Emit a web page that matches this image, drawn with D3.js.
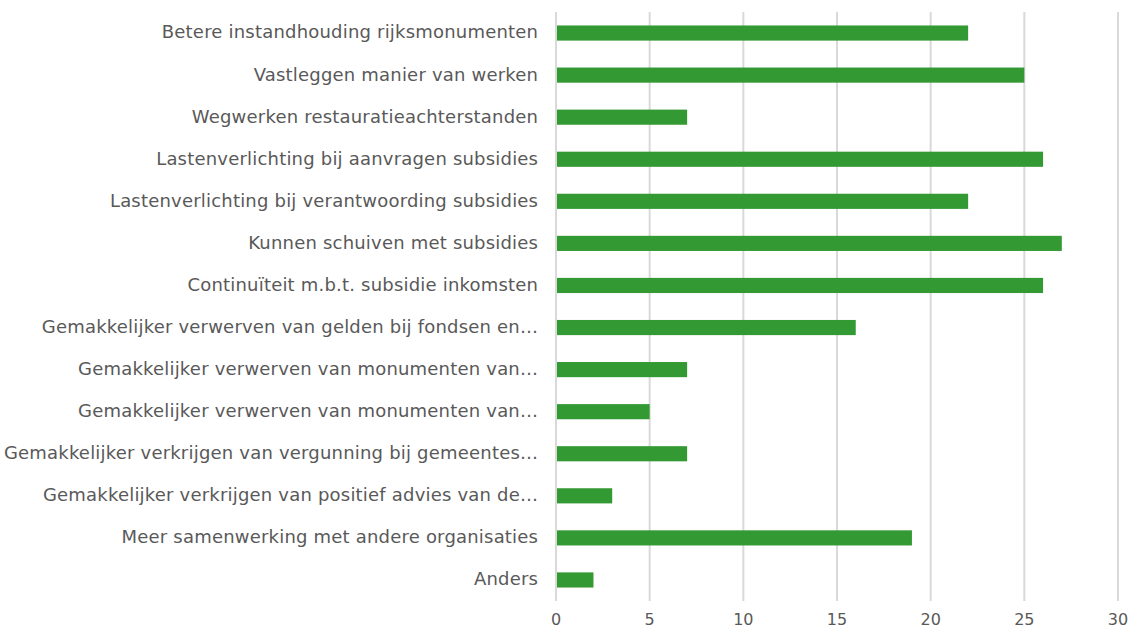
<!DOCTYPE html>
<html><head><meta charset="utf-8">
<script src="https://cdn.jsdelivr.net/npm/d3@7"></script>
<style>body{margin:0;background:#fff;} svg{display:block;}</style>
</head><body>
<svg id="c" width="1131" height="629"></svg>
<script>
const categories = [
  "Betere instandhouding rijksmonumenten",
  "Vastleggen manier van werken",
  "Wegwerken restauratieachterstanden",
  "Lastenverlichting bij aanvragen subsidies",
  "Lastenverlichting bij verantwoording subsidies",
  "Kunnen schuiven met subsidies",
  "Continuïteit m.b.t. subsidie inkomsten",
  "Gemakkelijker verwerven van gelden bij fondsen en…",
  "Gemakkelijker verwerven van monumenten van…",
  "Gemakkelijker verwerven van monumenten van…",
  "Gemakkelijker verkrijgen van vergunning bij gemeentes…",
  "Gemakkelijker verkrijgen van positief advies van de…",
  "Meer samenwerking met andere organisaties",
  "Anders"
];
const values = [22, 25, 7, 26, 22, 27, 26, 16, 7, 5, 7, 3, 19, 2];
const tickValues = [0, 5, 10, 15, 20, 25, 30];

const svg = d3.select("#c");
const pLeft = 556, pRight = 1118, pTop = 12, pBottom = 601;
const x = d3.scaleLinear().domain([0, 30]).range([pLeft, pRight]);
const y = d3.scaleBand().domain(d3.range(categories.length)).range([pTop, pBottom]).paddingInner(0.64).paddingOuter(0.32);

const font = "'DejaVu Sans', Verdana, sans-serif";
const textColor = "#595959";

// gridlines
svg.append("g").selectAll("line").data(tickValues).join("line")
  .attr("x1", d => x(d)).attr("x2", d => x(d))
  .attr("y1", pTop).attr("y2", pBottom)
  .attr("stroke", "#d9d9d9").attr("stroke-width", 2);

// bars
svg.append("g").selectAll("rect").data(values).join("rect")
  .attr("x", x(0) + 1)
  .attr("y", (d, i) => y(i))
  .attr("width", d => x(d) - x(0) - 1)
  .attr("height", y.bandwidth())
  .attr("fill", "#339933");

// category labels
svg.append("g").selectAll("text").data(categories).join("text")
  .attr("x", 538.2)
  .attr("y", (d, i) => y(i) + y.bandwidth() / 2)
  .attr("dy", "0.3em")
  .attr("text-anchor", "end")
  .attr("font-family", font).attr("font-size", 18)
  .attr("letter-spacing", 0.2)
  .attr("fill", textColor)
  .text(d => d);

// x tick labels
svg.append("g").selectAll("text").data(tickValues).join("text")
  .attr("x", d => x(d))
  .attr("y", 625)
  .attr("text-anchor", "middle")
  .attr("font-family", font).attr("font-size", 16)
  .attr("fill", textColor)
  .text(d => d);
</script>
</body></html>
